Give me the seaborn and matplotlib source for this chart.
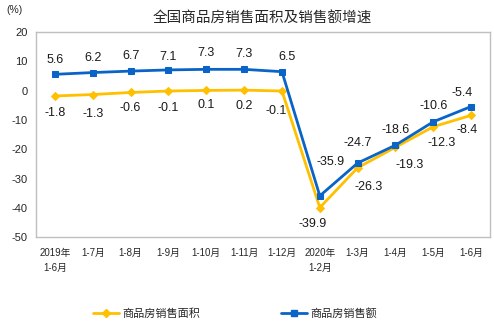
import matplotlib
matplotlib.use("Agg")
import matplotlib.pyplot as plt
import seaborn as sns
import pandas as pd
from matplotlib.lines import Line2D

sns.set_style("white")
plt.rcParams['font.family'] = ['Liberation Sans', 'Noto Sans CJK SC', 'DejaVu Sans']

categories = ["2019年\n1-6月", "1-7月", "1-8月", "1-9月", "1-10月", "1-11月", "1-12月",
              "2020年\n1-2月", "1-3月", "1-4月", "1-5月", "1-6月"]
area = [-1.8, -1.3, -0.6, -0.1, 0.1, 0.2, -0.1, -39.9, -26.3, -19.3, -12.3, -8.4]
amount = [5.6, 6.2, 6.7, 7.1, 7.3, 7.3, 6.5, -35.9, -24.7, -18.6, -10.6, -5.4]
area_label = "商品房销售面积"
amount_label = "商品房销售额"
yticks = [20, 10, 0, -10, -20, -30, -40, -50]

# label offsets in pixels (dx, dy), dy positive = up
amount_off = [(0, 14), (0, 15), (0, 15), (0, 13), (0, 16), (0, 15), (5, 15),
              (11, 34), (0, 20), (0, 15), (0, 16), (-9, 14)]
area_off = [(0, -17), (0, -19), (0, -16), (0, -17), (0, -15), (0, -16), (-6, -20),
            (-7, -16), (11, -19), (14, -18), (8, -16), (-4, -15)]

yellow = "#FFC000"
blue = "#0A64C8"

df = pd.DataFrame({"x": range(len(categories)), "area": area, "amount": amount})

fig = plt.figure(figsize=(4.94, 3.28), dpi=100)
ax = fig.add_axes([0.073, 0.277, 0.919, 0.625])

sns.lineplot(data=df, x="x", y="area", ax=ax, color=yellow, marker="D", markersize=4,
             markeredgecolor=yellow, linewidth=2)
sns.lineplot(data=df, x="x", y="amount", ax=ax, color=blue, marker="s", markersize=5,
             markeredgecolor=blue, linewidth=2)

px = 0.72
for i, v in enumerate(amount):
    dx, dy = amount_off[i]
    ax.annotate(f"{v:.1f}", (i, v), xytext=(dx * px, dy * px), textcoords="offset points",
                ha="center", va="center", fontsize=9, color="#1a1a1a")
for i, v in enumerate(area):
    dx, dy = area_off[i]
    ax.annotate(f"{v:.1f}", (i, v), xytext=(dx * px, dy * px), textcoords="offset points",
                ha="center", va="center", fontsize=9, color="#1a1a1a")

ax.set_xlim(-0.5, len(categories) - 0.5)
ax.set_ylim(-50, 20)
ax.set_yticks(yticks)
ax.set_yticklabels([str(t) for t in yticks], fontsize=8)
ax.set_xticks(range(len(categories)))
ax.set_xticklabels(categories, fontsize=7)
ax.set_xticks([k - 0.5 for k in range(len(categories) + 1)], minor=True)
ax.tick_params(axis="x", which="major", length=0, pad=8)
ax.tick_params(axis="x", which="minor", length=4, color="#BFBFBF", direction="out")
ax.tick_params(axis="y", length=3, color="#BFBFBF", direction="out", pad=3)
ax.set_xlabel("")
ax.set_ylabel("")
for s in ax.spines.values():
    s.set_color("#BFBFBF")
    s.set_linewidth(1)
    s.set_visible(True)
for lbl in ax.get_xticklabels():
    lbl.set_linespacing(1.6)

fig.text(0.53, 0.942, "全国商品房销售面积及销售额增速", ha="center", va="center", fontsize=10.5)
fig.text(0.012, 0.97, "(%)", ha="left", va="center", fontsize=7.5)

handles = [Line2D([], [], color=yellow, marker="D", markersize=4, linewidth=2),
           Line2D([], [], color=blue, marker="s", markersize=4, linewidth=2)]
fig.legend(handles, [area_label, amount_label], loc="center", bbox_to_anchor=(0.476, 0.045),
           ncol=2, frameon=False, fontsize=8, handlelength=2.4, columnspacing=7.2,
           handletextpad=0.3)

fig.savefig("out.png", dpi=100)
